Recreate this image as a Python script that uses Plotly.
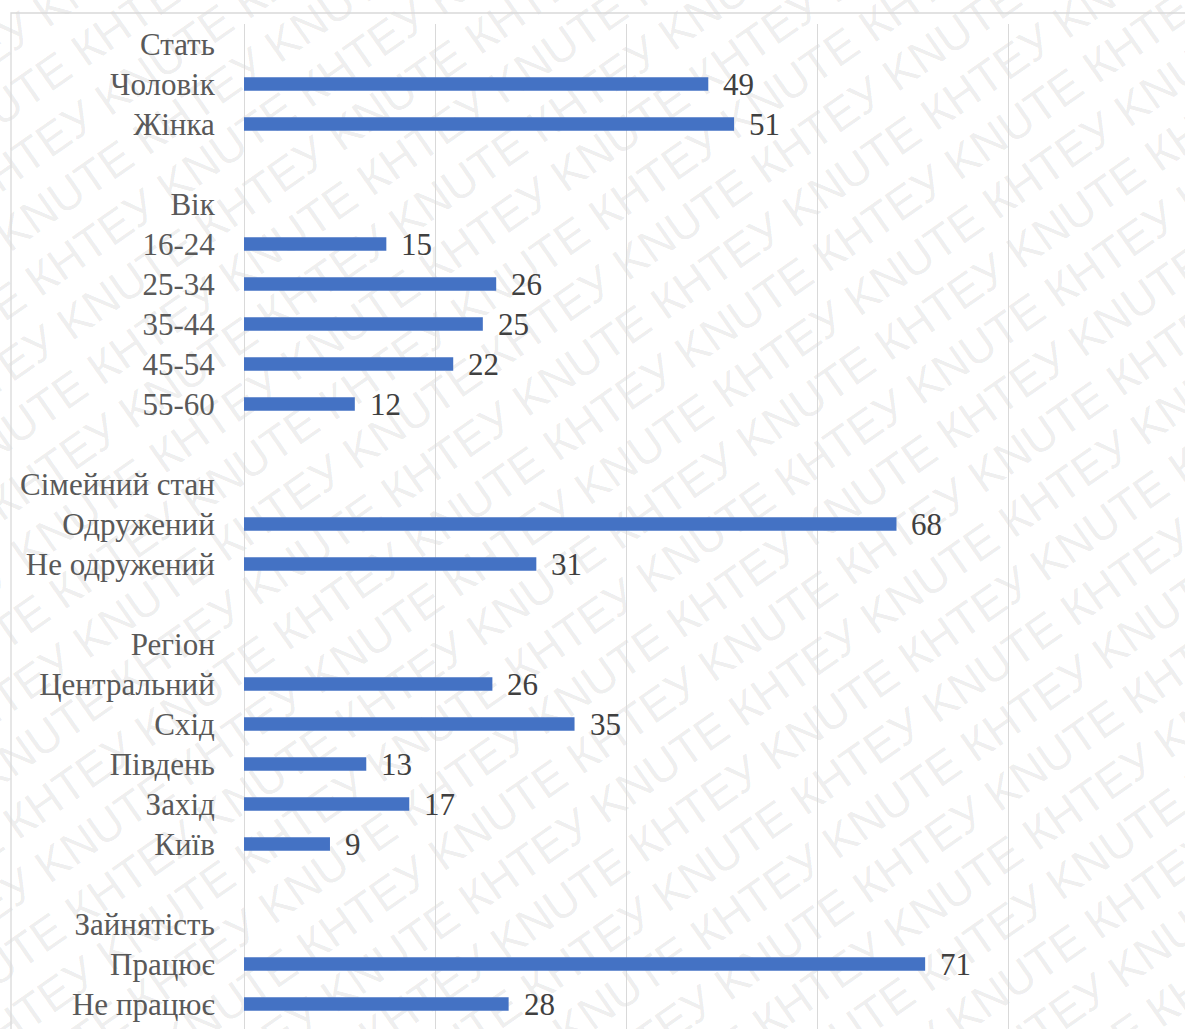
import math
import plotly.graph_objects as go

# ---------------- data ----------------
labels = ["Стать", "Чоловік", "Жінка", " ",
          "Вік", "16-24", "25-34", "35-44", "45-54", "55-60", "  ",
          "Сімейний стан", "Одружений", "Не одружений", "   ",
          "Регіон", "Центральний", "Схід", "Південь", "Захід", "Київ", "    ",
          "Зайнятість", "Працює", "Не працює"]
values = [None, 48.6, 51.3, None,
          None, 14.9, 26.4, 25.0, 21.9, 11.6, None,
          None, 68.3, 30.6, None,
          None, 26.0, 34.6, 12.8, 17.3, 9.0, None,
          None, 71.3, 27.7]
watermark_words = "KNUTE КНТЕУ "

# ---------------- layout constants ----------------
W, H = 1185, 1029
L, T, R, B = 244, 24, 0, 0
SERIF = "Liberation Serif, Times New Roman, serif"
BAR = "#4472C4"

fig = go.Figure()
fig.add_trace(go.Bar(
    x=values, y=labels, orientation="h",
    marker=dict(color=BAR, line=dict(width=0)),
    width=0.34, hoverinfo="skip",
))

# value labels
for lab, v in zip(labels, values):
    if v is None:
        continue
    fig.add_annotation(x=v, y=lab, text=f"{round(v)}", showarrow=False,
                       xanchor="left", yanchor="middle", xshift=13,
                       font=dict(family=SERIF, size=31, color="#404040"))

# watermark (drawn below the data)
pw, ph = W - L - R, H - T - B
def to_paper(px, py):
    return (px - L) / pw, (H - B - py) / ph

theta = math.radians(35)
ux, uy = math.cos(theta), -math.sin(theta)
nx, ny = math.sin(theta), math.cos(theta)
cx, cy = W / 2, H / 2
d = 54
shapes = []
for k in range(-16, 17):
    px, py = cx + k * d * nx, cy + k * d * ny
    shift = (k % 2) * 160
    px += shift * ux
    py += shift * uy
    x0, y0 = to_paper(px - 5 * ux, py - 5 * uy)
    x1, y1 = to_paper(px + 5 * ux, py + 5 * uy)
    shapes.append(dict(
        type="line", xref="paper", yref="paper", x0=x0, y0=y0, x1=x1, y1=y1,
        layer="below", line=dict(color="rgba(0,0,0,0)", width=0),
        label=dict(text=watermark_words * 8, textangle=-35, textposition="middle",
                   font=dict(family="Liberation Sans, Arial, sans-serif", size=46,
                             color="rgba(0,0,0,0.08)")),
    ))

# chart border
bx0, by0 = to_paper(11, 13)
shapes.append(dict(type="rect", xref="paper", yref="paper",
                   x0=bx0, y0=-0.05, x1=1.05, y1=by0,
                   line=dict(color="#d9d9d9", width=1.3), fillcolor="rgba(0,0,0,0)",
                   layer="above"))

fig.update_layout(
    width=W, height=H,
    margin=dict(l=L, r=R, t=T, b=B, pad=0),
    paper_bgcolor="white", plot_bgcolor="rgba(0,0,0,0)",
    showlegend=False, bargap=0.66,
    shapes=shapes,
    xaxis=dict(range=[0, 98.5], dtick=20, tick0=0, showticklabels=False,
               showgrid=True, gridcolor="#d9d9d9", gridwidth=1,
               zeroline=True, zerolinecolor="#d9d9d9", zerolinewidth=1,
               showline=False, fixedrange=True),
    yaxis=dict(type="category", categoryorder="array", categoryarray=labels,
               range=[len(labels) - 1 + 0.625, -0.5],
               showgrid=False, zeroline=False, showline=False,
               ticks="outside", ticklen=22, tickcolor="rgba(0,0,0,0)",
               tickfont=dict(family=SERIF, size=31, color="#595959"),
               fixedrange=True),
)

fig.write_html("out.html")
